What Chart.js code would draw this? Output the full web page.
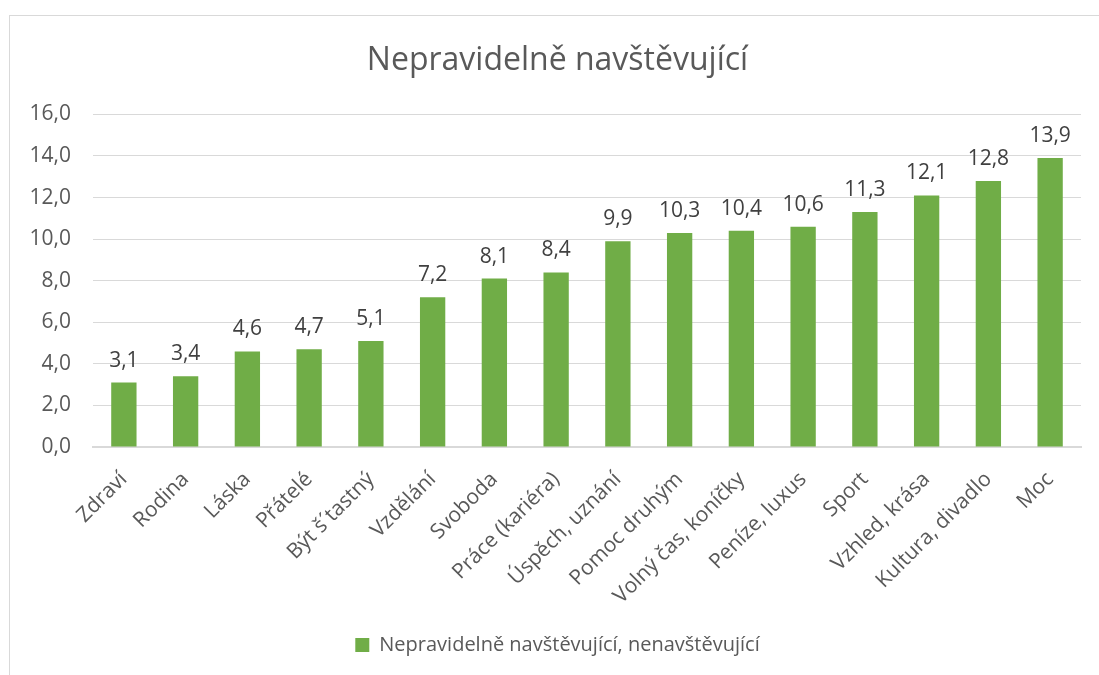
<!DOCTYPE html>
<html>
<head>
<meta charset="utf-8">
<script src="https://cdn.jsdelivr.net/npm/chart.js@4"></script>
<style>
  body { margin: 0; background: #fff; }
  #box { position: absolute; left: 9px; top: 15px; width: 1100px; height: 680px; border: 1px solid #d9d9d9; }
  #wrap { position: absolute; left: 0; top: 0; width: 1090px; height: 659px; }
</style>
</head>
<body>
<div id="box"><div id="wrap"><canvas id="chart"></canvas></div></div>
<script>
const labels = ['Zdraví', 'Rodina', 'Láska', 'Přátelé', 'Být š´tastný', 'Vzdělání', 'Svoboda', 'Práce (kariéra)',
  'Úspěch, uznání', 'Pomoc druhým', 'Volný čas, koníčky', 'Peníze, luxus', 'Sport', 'Vzhled, krása', 'Kultura, divadlo', 'Moc'];
const values = [3.1, 3.4, 4.6, 4.7, 5.1, 7.2, 8.1, 8.4, 9.9, 10.3, 10.4, 10.6, 11.3, 12.1, 12.8, 13.9];
const seriesName = 'Nepravidelně navštěvující, nenavštěvující';
const title = 'Nepravidelně navštěvující';

const fmt = v => v.toFixed(1).replace('.', ',');

// value labels above each bar
const valueLabels = {
  id: 'valueLabels',
  afterDatasetsDraw(chart) {
    const ctx = chart.ctx;
    const meta = chart.getDatasetMeta(0);
    ctx.save();
    ctx.font = '21px "Open Sans"';
    ctx.fillStyle = '#404040';
    ctx.textAlign = 'center';
    ctx.textBaseline = 'alphabetic';
    meta.data.forEach((bar, i) => {
      ctx.fillText(fmt(values[i]), bar.x, bar.y - 16);
    });
    ctx.restore();
  }
};

// title and legend sit a little right of the canvas centre in the original
const shiftBoxes = {
  id: 'shiftBoxes',
  afterLayout(chart) {
    [chart.titleBlock, chart.legend].forEach(b => {
      b.left += 12;
      b.right += 12;
    });
  }
};

new Chart(document.getElementById('chart'), {
  type: 'bar',
  data: {
    labels: labels,
    datasets: [{
      label: seriesName,
      data: values,
      backgroundColor: '#70ad47',
      barPercentage: 0.41,
      categoryPercentage: 1
    }]
  },
  options: {
    responsive: true,
    maintainAspectRatio: false,
    animation: false,
    layout: { padding: { left: 0, right: 19, top: 0, bottom: 10 } },
    plugins: {
      title: {
        display: true,
        text: title,
        color: '#595959',
        font: { family: 'Open Sans', size: 32, weight: 'normal' },
        padding: { top: 26, bottom: 34 }
      },
      legend: {
        position: 'bottom',
        labels: {
          color: '#595959',
          font: { family: 'Open Sans', size: 20 },
          boxWidth: 14,
          boxHeight: 14,
          padding: 8
        }
      },
      tooltip: { enabled: false }
    },
    scales: {
      x: {
        grid: { display: false },
        border: { color: '#d9d9d9', width: 2 },
        ticks: {
          color: '#595959',
          font: { family: 'Open Sans', size: 21 },
          minRotation: 45,
          maxRotation: 45,
          autoSkip: false,
          padding: 12
        },
        afterFit(scale) { scale.height = 180; }
      },
      y: {
        min: 0,
        max: 16,
        grid: { color: '#d9d9d9', drawTicks: false },
        border: { display: false },
        ticks: {
          stepSize: 2,
          color: '#595959',
          font: { family: 'Open Sans', size: 21 },
          padding: 22,
          callback: v => fmt(v)
        },
        afterFit(scale) { scale.width = 83; }
      }
    }
  },
  plugins: [valueLabels, shiftBoxes]
});
</script>
</body>
</html>
